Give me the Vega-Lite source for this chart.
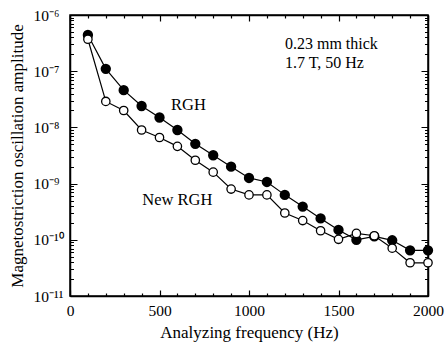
{
  "$schema": "https://vega.github.io/schema/vega-lite/v6.json",
  "width": 358,
  "height": 281,
  "autosize": "none",
  "padding": {"left": 70, "top": 15, "right": 19, "bottom": 50},
  "background": "white",
  "config": {
    "font": "Liberation Serif",
    "view": {"stroke": "black", "strokeWidth": 1.5},
    "axis": {"domainColor": "black", "tickColor": "black", "labelColor": "black", "titleColor": "black", "grid": false, "labelFont": "Liberation Serif", "titleFont": "Liberation Serif", "titleFontWeight": "normal"}
  },
  "datasets": {
    "series": [
      {"f": 100, "a": 4.4e-7, "s": "RGH"},
      {"f": 200, "a": 1.1e-7, "s": "RGH"},
      {"f": 300, "a": 4.6e-8, "s": "RGH"},
      {"f": 400, "a": 2.4e-8, "s": "RGH"},
      {"f": 500, "a": 1.5e-8, "s": "RGH"},
      {"f": 600, "a": 9.0e-9, "s": "RGH"},
      {"f": 700, "a": 5.1e-9, "s": "RGH"},
      {"f": 800, "a": 3.2e-9, "s": "RGH"},
      {"f": 900, "a": 2.0e-9, "s": "RGH"},
      {"f": 1000, "a": 1.26e-9, "s": "RGH"},
      {"f": 1100, "a": 1.07e-9, "s": "RGH"},
      {"f": 1200, "a": 6.3e-10, "s": "RGH"},
      {"f": 1300, "a": 3.9e-10, "s": "RGH"},
      {"f": 1400, "a": 2.4e-10, "s": "RGH"},
      {"f": 1500, "a": 1.5e-10, "s": "RGH"},
      {"f": 1600, "a": 1.0e-10, "s": "RGH"},
      {"f": 1700, "a": 1.15e-10, "s": "RGH"},
      {"f": 1800, "a": 9.8e-11, "s": "RGH"},
      {"f": 1900, "a": 6.5e-11, "s": "RGH"},
      {"f": 2000, "a": 6.5e-11, "s": "RGH"},
      {"f": 100, "a": 3.7e-7, "s": "New RGH"},
      {"f": 200, "a": 2.9e-8, "s": "New RGH"},
      {"f": 300, "a": 2.0e-8, "s": "New RGH"},
      {"f": 400, "a": 9.0e-9, "s": "New RGH"},
      {"f": 500, "a": 6.6e-9, "s": "New RGH"},
      {"f": 600, "a": 4.6e-9, "s": "New RGH"},
      {"f": 700, "a": 2.6e-9, "s": "New RGH"},
      {"f": 800, "a": 1.6e-9, "s": "New RGH"},
      {"f": 900, "a": 8.0e-10, "s": "New RGH"},
      {"f": 1000, "a": 6.3e-10, "s": "New RGH"},
      {"f": 1100, "a": 6.3e-10, "s": "New RGH"},
      {"f": 1200, "a": 3.0e-10, "s": "New RGH"},
      {"f": 1300, "a": 2.2e-10, "s": "New RGH"},
      {"f": 1400, "a": 1.45e-10, "s": "New RGH"},
      {"f": 1500, "a": 1.02e-10, "s": "New RGH"},
      {"f": 1600, "a": 1.3e-10, "s": "New RGH"},
      {"f": 1700, "a": 1.18e-10, "s": "New RGH"},
      {"f": 1800, "a": 7.1e-11, "s": "New RGH"},
      {"f": 1900, "a": 3.9e-11, "s": "New RGH"},
      {"f": 2000, "a": 3.9e-11, "s": "New RGH"}
    ],
    "notes": [
      {"f": 1201, "a": 3.05e-7, "label": "0.23 mm thick"},
      {"f": 1201, "a": 1.42e-7, "label": "1.7 T, 50 Hz"}
    ],
    "labels": [
      {"f": 662, "a": 2.5e-8, "label": "RGH"},
      {"f": 600, "a": 5.1e-10, "label": "New RGH"}
    ]
  },
  "resolve": {"axis": {"x": "independent", "y": "independent"}},
  "encoding": {
    "x": {"field": "f", "type": "quantitative", "scale": {"domain": [0, 2000], "nice": false, "zero": false}, "axis": null},
    "y": {"field": "a", "type": "quantitative", "scale": {"type": "log", "domain": [1e-11, 1e-6], "nice": false}, "axis": null}
  },
  "layer": [
    {
      "data": {"name": "series"},
      "transform": [{"filter": "datum.s === 'RGH'"}],
      "mark": {"type": "line", "color": "black", "strokeWidth": 1.2},
      "encoding": {
        "x": {
          "field": "f", "type": "quantitative",
          "scale": {"domain": [0, 2000], "nice": false, "zero": false},
          "axis": {
            "orient": "bottom",
            "title": "Analyzing frequency (Hz)",
            "titleFontSize": 17,
            "titlePadding": 3,
            "values": [0,100,200,300,400,500,600,700,800,900,1000,1100,1200,1300,1400,1500,1600,1700,1800,1900,2000],
            "labelExpr": "datum.value % 500 === 0 ? datum.label : ''",
            "format": "d",
            "labelFontSize": 15.5,
            "labelPadding": 13,
            "labelFlush": false,
            "labelOverlap": false,
            "tickSize": {"condition": {"test": "datum.value % 500 === 0", "value": -6}, "value": -3},
            "domainWidth": 1.5,
            "tickWidth": 1.2
          }
        },
        "y": {
          "field": "a", "type": "quantitative",
          "scale": {"type": "log", "domain": [1e-11, 1e-6], "nice": false},
          "axis": {
            "orient": "left",
            "title": "Magnetostriction oscillation amplitude",
            "titleFontSize": 17,
            "titlePadding": 3,
            "values": [1e-11,2e-11,3e-11,4e-11,5e-11,6e-11,7e-11,8e-11,9e-11,1e-10,2e-10,3e-10,4e-10,5e-10,6e-10,7e-10,8e-10,9e-10,1e-9,2e-9,3e-9,4e-9,5e-9,6e-9,7e-9,8e-9,9e-9,1e-8,2e-8,3e-8,4e-8,5e-8,6e-8,7e-8,8e-8,9e-8,1e-7,2e-7,3e-7,4e-7,5e-7,6e-7,7e-7,8e-7,9e-7,1e-6],
            "labelExpr": "abs(log(datum.value)/LN10 - round(log(datum.value)/LN10)) > 0.001 ? '' : (round(log(datum.value)/LN10) == -6 ? '10⁻⁶' : round(log(datum.value)/LN10) == -7 ? '10⁻⁷' : round(log(datum.value)/LN10) == -8 ? '10⁻⁸' : round(log(datum.value)/LN10) == -9 ? '10⁻⁹' : round(log(datum.value)/LN10) == -10 ? '10⁻¹⁰' : '10⁻¹¹')",
            "labelFontSize": 15.5,
            "labelAlign": "left",
            "labelPadding": 44,
            "labelOverlap": false,
            "labelFlush": false,
            "tickSize": {"condition": {"test": "abs(log(datum.value)/LN10 - round(log(datum.value)/LN10)) < 0.001", "value": -7}, "value": -3.5},
            "domainWidth": 1.5,
            "tickWidth": 1
          }
        }
      }
    },
    {
      "data": {"name": "series"},
      "transform": [{"filter": "datum.s === 'New RGH'"}],
      "mark": {"type": "line", "color": "black", "strokeWidth": 1.2},
      "encoding": {}
    },
    {
      "data": {"name": "series"},
      "transform": [{"filter": "datum.s === 'RGH'"}],
      "mark": {"type": "point", "shape": "circle", "filled": true, "fill": "black", "stroke": "black", "size": 70, "opacity": 1},
      "encoding": {}
    },
    {
      "data": {"name": "series"},
      "transform": [{"filter": "datum.s === 'New RGH'"}],
      "mark": {"type": "point", "shape": "circle", "filled": true, "fill": "white", "stroke": "black", "strokeWidth": 1.3, "size": 70, "opacity": 1},
      "encoding": {}
    },
    {
      "data": {"name": "notes"},
      "mark": {"type": "text", "font": "Liberation Serif", "fontSize": 16, "color": "black", "baseline": "middle", "align": "left"},
      "encoding": {"text": {"field": "label"}}
    },
    {
      "data": {"name": "labels"},
      "mark": {"type": "text", "font": "Liberation Serif", "fontSize": 16.5, "color": "black", "baseline": "middle", "align": "center"},
      "encoding": {"text": {"field": "label"}}
    },
    {
      "data": {"name": "series"},
      "mark": {"type": "point", "opacity": 0},
      "encoding": {
        "x": {
          "field": "f", "type": "quantitative",
          "scale": {"domain": [0, 2000], "nice": false, "zero": false},
          "axis": {
            "orient": "top", "title": null, "labels": false,
            "values": [0,100,200,300,400,500,600,700,800,900,1000,1100,1200,1300,1400,1500,1600,1700,1800,1900,2000],
            "tickSize": {"condition": {"test": "datum.value % 500 === 0", "value": -6}, "value": -3},
            "domainWidth": 1.5, "tickWidth": 1.2
          }
        },
        "y": {
          "field": "a", "type": "quantitative",
          "scale": {"type": "log", "domain": [1e-11, 1e-6], "nice": false},
          "axis": {
            "orient": "right", "title": null, "labels": false,
            "values": [1e-11,2e-11,3e-11,4e-11,5e-11,6e-11,7e-11,8e-11,9e-11,1e-10,2e-10,3e-10,4e-10,5e-10,6e-10,7e-10,8e-10,9e-10,1e-9,2e-9,3e-9,4e-9,5e-9,6e-9,7e-9,8e-9,9e-9,1e-8,2e-8,3e-8,4e-8,5e-8,6e-8,7e-8,8e-8,9e-8,1e-7,2e-7,3e-7,4e-7,5e-7,6e-7,7e-7,8e-7,9e-7,1e-6],
            "tickSize": {"condition": {"test": "abs(log(datum.value)/LN10 - round(log(datum.value)/LN10)) < 0.001", "value": -7}, "value": -3.5},
            "domainWidth": 1.5, "tickWidth": 1
          }
        }
      }
    }
  ]
}
